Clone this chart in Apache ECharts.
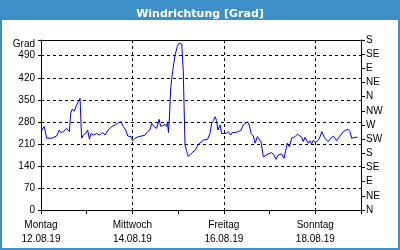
<!DOCTYPE html>
<html>
<head>
<meta charset="utf-8">
<script src="https://cdn.jsdelivr.net/npm/echarts@6/dist/echarts.min.js"></script>
<style>
html,body{margin:0;padding:0;background:#fff;}
#c{width:400px;height:250px;}
</style>
</head>
<body>
<div id="c"></div>
<script>
var hours = [0,1.7,3.0,3.8,5.6,8.2,9.6,10.5,11.7,13.5,14.9,15.6,16.4,17.5,18.7,19.6,20.5,21.3,22.2,23.5,24.5,25.4,26.3,27.5,29.2,30.6,32.4,33.6,35.3,37.1,38.9,40.6,42.0,43.2,44.5,45.5,46.4,47.3,48.1,49.4,51.1,52.9,54.6,56.0,57.2,58.1,59.5,60.7,62.0,62.8,63.9,65.1,66.0,66.4,66.9,67.4,68.1,69.1,70.4,71.6,72.6,73.9,74.7,75.1,75.6,76.5,77.3,79.1,80.9,82.6,85.2,87.5,88.7,89.6,90.5,91.4,92.2,92.8,94.0,94.9,95.7,97.1,98.3,99.6,100.4,101.9,103.6,105.0,106.2,107.1,108.3,109.2,110.3,111.5,112.4,113.6,114.6,115.5,116.2,116.7,117.6,119.3,121.1,122.3,123.4,124.6,126.4,127.6,128.6,129.3,130.4,131.6,133.4,134.6,135.6,136.9,137.7,138.6,139.5,140.3,141.2,142.1,143.0,143.9,144.7,145.6,146.5,147.4,148.2,149.1,150.0,150.8,151.7,152.6,153.5,154.4,155.2,156.1,157.0,157.9,158.7,160.1,161.3,162.2,163.1,164.0,164.9,166.1];
var degrees = [249,265,228,231,228,235,254,246,249,259,249,307,320,314,333,344,355,228,238,243,254,225,243,238,243,238,246,238,254,265,270,277,281,265,254,235,230,233,220,228,233,235,238,249,254,275,265,259,288,266,268,272,265,280,246,292,388,440,493,520,530,527,440,334,207,186,170,181,190,208,222,225,243,275,284,296,284,254,270,243,249,243,249,238,246,246,249,254,270,265,280,273,243,235,212,233,235,217,212,169,171,178,182,175,161,175,178,164,164,212,201,228,233,241,238,231,217,231,225,212,220,210,222,214,220,222,233,249,238,228,222,217,225,220,235,231,220,222,235,233,249,254,256,249,228,228,231,231];
var xTickHours = [0,48,96,144];
var xTickDays = ['Montag','Mittwoch','Freitag','Sonntag'];
var xTickDates = ['12.08.19','14.08.19','16.08.19','18.08.19'];
var compassLabels = ['N','NE','E','SE','S','SW','W','NW','N','NE','E','SE','S'];
var leftTopLabel = 'Grad';

var data = hours.map(function(h,i){return [h, degrees[i]];});
var FONT = 'Liberation Sans';
var chart = echarts.init(document.getElementById('c'), null, {renderer:'canvas'});
chart.setOption({
  animation:false,
  backgroundColor:'#ffffff',
  title:{text:'Windrichtung [Grad]', left:'center', top:4, z:10,
    textStyle:{color:'#ffffff', fontSize:11, fontWeight:'bold', fontFamily:'DejaVu Sans'}},
  graphic:[
    {type:'rect', z:-10, shape:{x:0,y:0,width:400,height:20}, style:{fill:'#3d8fc7'}},
    {type:'rect', z:-10, shape:{x:1,y:1,width:398,height:248}, style:{fill:'none', stroke:'#3d8fc7', lineWidth:2}}
  ],
  grid:{left:41, right:39, top:40, bottom:40},
  xAxis:[
    {type:'value', min:0, max:168, interval:24, position:'bottom',
     axisLine:{show:true, onZero:false, lineStyle:{color:'#000', width:1}},
     axisTick:{show:true, length:4, lineStyle:{color:'#000'}},
     splitLine:{show:false},
     axisLabel:{show:true, margin:8, lineHeight:14, color:'#000', fontSize:10, fontFamily:FONT,
       formatter:function(v){var i=xTickHours.indexOf(v); return i<0?'':xTickDays[i]+'\n'+xTickDates[i];}}},
    {type:'value', min:0, max:168, interval:48, position:'top',
     axisLine:{show:true, onZero:false, lineStyle:{color:'#000', width:1}},
     axisTick:{show:false}, axisLabel:{show:false},
     splitLine:{show:true, lineStyle:{color:'#000', type:[3,3], width:1}}}
  ],
  yAxis:[
    {type:'value', min:0, max:540, interval:70, position:'left',
     axisLine:{show:true, onZero:false, lineStyle:{color:'#000'}},
     axisTick:{show:true, length:3, lineStyle:{color:'#000'}},
     splitLine:{show:true, lineStyle:{color:'#000', type:[3,3], width:1}},
     axisLabel:{margin:6, color:'#000', fontSize:10, fontFamily:FONT,
       formatter:function(v){return v===540?'{g|'+leftTopLabel+'}':String(v);},
       rich:{g:{fontSize:10, fontFamily:FONT, color:'#000', padding:[8,0,0,0]}}}},
    {type:'value', min:0, max:540, interval:45, position:'right',
     axisLine:{show:true, onZero:false, lineStyle:{color:'#000'}},
     axisTick:{show:true, length:4, lineStyle:{color:'#000'}},
     splitLine:{show:false},
     axisLabel:{margin:5, color:'#000', fontSize:10, fontFamily:FONT,
       formatter:function(v){return compassLabels[Math.round(v/45)];}}}
  ],
  series:[{type:'line', xAxisIndex:0, yAxisIndex:0, data:data, showSymbol:false, symbol:'none',
    lineStyle:{color:'#0000ee', width:1}, z:5}]
});
</script>
</body>
</html>
